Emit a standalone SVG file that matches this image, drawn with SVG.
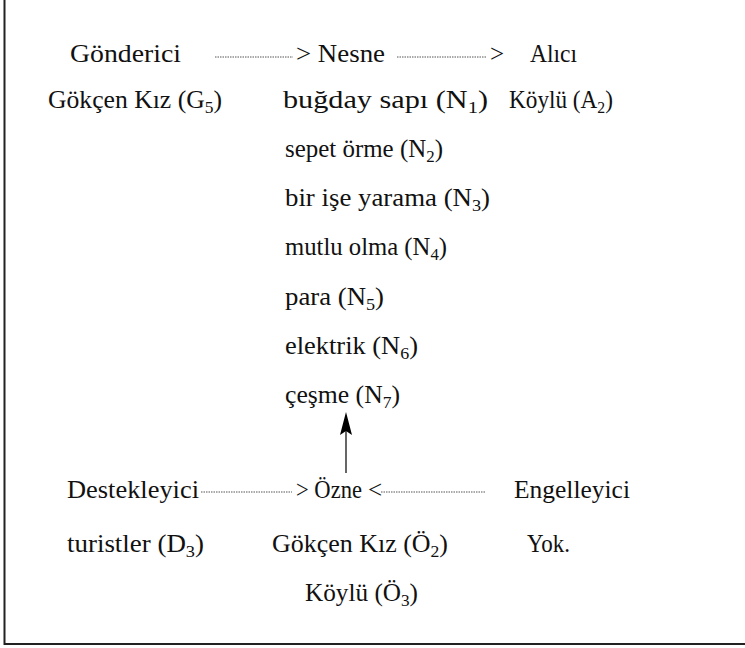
<svg xmlns="http://www.w3.org/2000/svg" width="745" height="648" viewBox="0 0 745 648">
<style>
.t{font-size:25px;fill:#111}
.sub{font-size:17px}
.dot{stroke:#555;stroke-width:1;stroke-dasharray:1.5 1;fill:none}
.frame{stroke:#222;stroke-width:2;fill:none}
</style>
<path class="frame" d="M4.5,0 V644 H745"/>
<g id="connectors">
<line class="dot" x1="215" y1="57" x2="293" y2="57"/>
<line class="dot" x1="397" y1="57" x2="487" y2="57"/>
<line class="dot" x1="201" y1="492" x2="292" y2="492"/>
<line class="dot" x1="381" y1="492" x2="486" y2="492"/>
<line x1="346" y1="473" x2="346" y2="430" stroke="#000" stroke-width="1.2"/>
<path d="M346,412 L352,435 L346,431 L340,435 Z" fill="#000"/>
</g>
<g class="t" font-family="Liberation Serif">
<g id="gonderici"><text x="70" y="62" textLength="111" lengthAdjust="spacingAndGlyphs">Gönderici</text></g>
<g id="nesne"><text x="296" y="62" textLength="89" lengthAdjust="spacingAndGlyphs">&gt; Nesne</text></g>
<g id="alici"><text x="490" y="62">&gt;</text><text x="530" y="62" textLength="47" lengthAdjust="spacingAndGlyphs">Alıcı</text></g>
<g id="g5"><text x="48" y="108" textLength="174" lengthAdjust="spacingAndGlyphs">Gökçen Kız (G<tspan class="sub" dy="5">5</tspan><tspan dy="-5">)</tspan></text></g>
<g id="n1"><text x="283" y="108" textLength="205" lengthAdjust="spacingAndGlyphs">buğday sapı (N<tspan class="sub" dy="5">1</tspan><tspan dy="-5">)</tspan></text></g>
<g id="a2"><text x="509" y="108" textLength="104" lengthAdjust="spacingAndGlyphs">Köylü (A<tspan class="sub" dy="5">2</tspan><tspan dy="-5">)</tspan></text></g>
<g id="n2"><text x="285" y="157" textLength="158" lengthAdjust="spacingAndGlyphs">sepet örme (N<tspan class="sub" dy="5">2</tspan><tspan dy="-5">)</tspan></text></g>
<g id="n3"><text x="285" y="206" textLength="205" lengthAdjust="spacingAndGlyphs">bir işe yarama (N<tspan class="sub" dy="5">3</tspan><tspan dy="-5">)</tspan></text></g>
<g id="n4"><text x="285" y="255" textLength="162" lengthAdjust="spacingAndGlyphs">mutlu olma (N<tspan class="sub" dy="5">4</tspan><tspan dy="-5">)</tspan></text></g>
<g id="n5"><text x="285" y="305" textLength="99" lengthAdjust="spacingAndGlyphs">para (N<tspan class="sub" dy="5">5</tspan><tspan dy="-5">)</tspan></text></g>
<g id="n6"><text x="285" y="354" textLength="133" lengthAdjust="spacingAndGlyphs">elektrik (N<tspan class="sub" dy="5">6</tspan><tspan dy="-5">)</tspan></text></g>
<g id="n7"><text x="285" y="403" textLength="115" lengthAdjust="spacingAndGlyphs">çeşme (N<tspan class="sub" dy="5">7</tspan><tspan dy="-5">)</tspan></text></g>
<g id="destekleyici"><text x="67" y="498" textLength="132" lengthAdjust="spacingAndGlyphs">Destekleyici</text></g>
<g id="ozne"><text x="296" y="498" textLength="66" lengthAdjust="spacingAndGlyphs">&gt; Özne</text><text x="368" y="498">&lt;</text></g>
<g id="engelleyici"><text x="514" y="498" textLength="116" lengthAdjust="spacingAndGlyphs">Engelleyici</text></g>
<g id="d3"><text x="67" y="552" textLength="137" lengthAdjust="spacingAndGlyphs">turistler (D<tspan class="sub" dy="5">3</tspan><tspan dy="-5">)</tspan></text></g>
<g id="o2"><text x="272" y="552" textLength="176" lengthAdjust="spacingAndGlyphs">Gökçen Kız (Ö<tspan class="sub" dy="5">2</tspan><tspan dy="-5">)</tspan></text></g>
<g id="yok"><text x="527" y="552" textLength="43" lengthAdjust="spacingAndGlyphs">Yok.</text></g>
<g id="o3"><text x="305" y="601" textLength="113" lengthAdjust="spacingAndGlyphs">Köylü (Ö<tspan class="sub" dy="5">3</tspan><tspan dy="-5">)</tspan></text></g>
</g>
</svg>
